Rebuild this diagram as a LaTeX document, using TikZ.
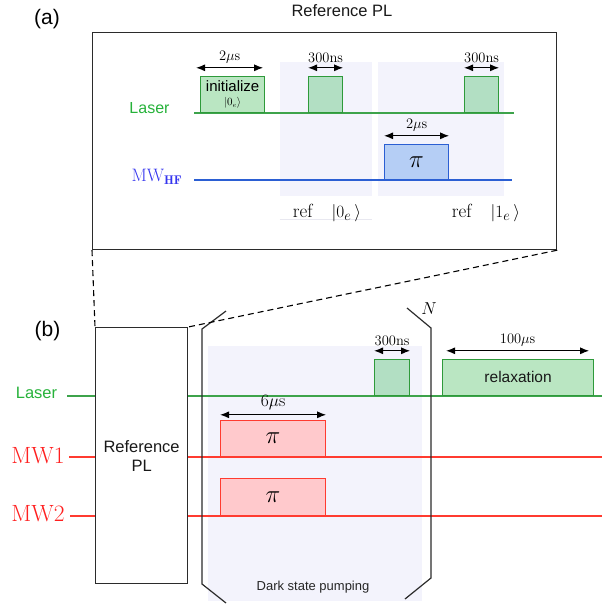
\documentclass[tikz,border=0pt]{standalone}
\usepackage{fontspec}
\setsansfont{Liberation Sans}
\usepackage{amsmath,amssymb}
\usepackage{xcolor}
\definecolor{LaserGreen}{HTML}{3DA34B}
\definecolor{LaserText}{HTML}{26B23A}
\definecolor{PulseEdge}{HTML}{2E9A3A}
\definecolor{PulseFill}{HTML}{BAE6C2}
\definecolor{PulseFillDark}{HTML}{B2DFC3}
\definecolor{HFBlue}{HTML}{2B5FD3}
\definecolor{HFText}{HTML}{3434EE}
\definecolor{HFFill}{HTML}{B5CEF5}
\definecolor{MWRed}{HTML}{FF3B30}
\definecolor{MWText}{HTML}{FF1F1F}
\definecolor{MWFill}{HTML}{FFC9CC}
\definecolor{ShadeLav}{HTML}{F3F3FC}
\definecolor{FaintLine}{HTML}{E8E8F0}
\definecolor{FrameGray}{HTML}{2B2B2B}
\usepackage{tikz}
\usetikzlibrary{positioning,calc,arrows.meta}

\tikzset{
  sig/.style={line width=1.2pt},
  pulse/.style={draw, line width=1.2pt, anchor=south west, inner sep=0pt, minimum height=36pt},
  lpulse/.style={pulse, draw=PulseEdge, fill=PulseFill},
  mwpulse/.style={pulse, draw=MWRed, fill=MWFill, font=\fontsize{27}{27}\selectfont},
  dur/.style={{Latex[length=9pt,width=7pt]}-{Latex[length=9pt,width=7pt]}, line width=1.1pt},
  dlabel/.style={font=\fontsize{14.5}{14.5}\selectfont, inner sep=1pt, above=3pt},
  boxframe/.style={draw=FrameGray, line width=1.2pt, anchor=north west, inner sep=0pt},
  brk/.style={draw=FrameGray, line width=1.2pt},
  sflabel/.style={font=\sffamily\fontsize{16.5}{19}\selectfont, text=black!90},
}

\begin{document}
\begin{tikzpicture}[x=1pt, y=-1pt]
    \useasboundingbox (0,0) rectangle (602,606);

    % Part (a): reference PL sequence
    \node[font=\sffamily\fontsize{21}{21}\selectfont] (tagA) at (47,19) {(a)};
    \node[sflabel] (titleA) at (342,11) {Reference PL};
    \node[boxframe, minimum width=464pt, minimum height=217pt] (boxA) at (92,32) {};

    % shaded read-out windows
    \fill[ShadeLav] (279.5,62) rectangle (372,196);
    \fill[ShadeLav] (378,62) rectangle (504,196);
    \draw[FaintLine, line width=0.6pt] (279.5,219) -- (372,219);

    % signal lines
    \coordinate (la0) at (194,113);
    \coordinate (la1) at (514,113);
    \draw[sig, LaserGreen] (la0) -- (la1);
    \coordinate (hf0) at (194,180);
    \coordinate (hf1) at (512,180);
    \draw[sig, HFBlue] (hf0) -- (hf1);
    \node[font=\sffamily\fontsize{16}{16}\selectfont, text=LaserText] (lasA) at (149.5,108.5) {Laser};
    \node[font=\fontsize{18}{18}\selectfont, text=HFText] (hfA) at (157,177) {MW$_{\mathbf{HF}}$};

    % laser pulses
    \node[lpulse, minimum width=64pt, align=center, font=\sffamily\fontsize{15}{15}\selectfont] (init) at (200,113)
      {initialize\\[-1pt]{\rmfamily\fontsize{10.5}{10.5}\selectfont$|0_e\rangle$}};
    \draw[dur] ([xshift=-4pt, yshift=8pt]init.north west) -- node[dlabel]{2$\mu$s} ([xshift=-2pt, yshift=8pt]init.north east);
    \foreach \px/\nm in {308/rdA, 464/rdB} {
      \node[lpulse, fill=PulseFillDark, minimum width=34pt] (\nm) at (\px,113) {};
      \draw[dur] ([yshift=8pt]\nm.north west) -- node[dlabel]{300ns} ([yshift=8pt]\nm.north east);
    }

    % microwave pi pulse
    \node[pulse, draw=HFBlue, fill=HFFill, minimum width=64pt, minimum height=35pt, font=\fontsize{28}{28}\selectfont] (piHF) at (384,180) {$\pi$};
    \draw[dur] ([yshift=8pt]piHF.north west) -- node[dlabel]{2$\mu$s} ([yshift=8pt]piHF.north east);

    \node[font=\fontsize{19}{19}\selectfont] (refZero) at (327,213) {ref\quad$|0_e\,\rangle$};
    \node[font=\fontsize{19}{19}\selectfont] (refOne) at (486,213) {ref\quad$|1_e\,\rangle$};

    % Part (b): dark state pumping sequence
    \node[font=\sffamily\fontsize{21}{21}\selectfont] (tagB) at (47.5,331) {(b)};
    \fill[ShadeLav] (208,346) rectangle (422,601);

    \foreach \y/\x/\col/\nm in {396/67/LaserGreen/lb, 457/69/MWRed/ma, 516/70/MWRed/mb} {
      \coordinate (\nm0) at (\x,\y);
      \coordinate (\nm1) at (602,\y);
      \draw[sig, \col] (\nm0) -- (\nm1);
    }
    \node[font=\sffamily\fontsize{16.5}{16}\selectfont, text=LaserText] (lasB) at (36.5,393) {Laser};
    \node[font=\fontsize{23.5}{23.5}\selectfont, text=MWText] (mwOne) at (38,456) {MW1};
    \node[font=\fontsize{23.5}{23.5}\selectfont, text=MWText] (mwTwo) at (38,514) {MW2};

    \node[boxframe, fill=white, minimum width=92pt, minimum height=256pt, align=center, sflabel] (refB) at (95,327) {Reference\\PL};

    % repeat brackets
    \draw[brk] (226,311) -- (202,329) -- (202,584) -- (226,603);
    \draw[brk] (407,308) -- (431,328) -- (431,578) -- (405,599);
    \node[font=\fontsize{17}{17}\selectfont] (rep) at (429,309) {$N$};

    % pulses
    \node[lpulse, fill=PulseFillDark, minimum width=35pt] (rdC) at (374,396) {};
    \draw[dur] ([yshift=8pt]rdC.north west) -- node[dlabel]{300ns} ([yshift=8pt]rdC.north east);
    \node[lpulse, minimum width=151pt, sflabel, font=\sffamily\fontsize{15.5}{16}\selectfont] (relax) at (442,396) {relaxation};
    \draw[dur] ([xshift=4pt, yshift=8pt]relax.north west) -- node[dlabel]{100$\mu$s} ([xshift=-5pt, yshift=8pt]relax.north east);

    \node[mwpulse, minimum width=105pt] (piA) at (220,457) {$\pi$};
    \node[mwpulse, minimum width=105pt, minimum height=37pt] (piB) at (220,516) {$\pi$};
    \draw[dur] ([yshift=5pt]piA.north west) -- node[dlabel, font=\fontsize{17.5}{17.5}\selectfont]{6$\mu$s} ([yshift=5pt]piA.north east);

    \node[font=\sffamily\fontsize{13}{13}\selectfont, text=black!85] (dsp) at (313,587) {Dark state pumping};

    % zoom connectors
    \draw[dash pattern=on 6pt off 4pt, line width=1.1pt] (boxA.south west) -- (refB.north west);
    \draw[dash pattern=on 6pt off 4pt, line width=1.1pt] (boxA.south east) -- (refB.north east);
\end{tikzpicture}
\end{document}
